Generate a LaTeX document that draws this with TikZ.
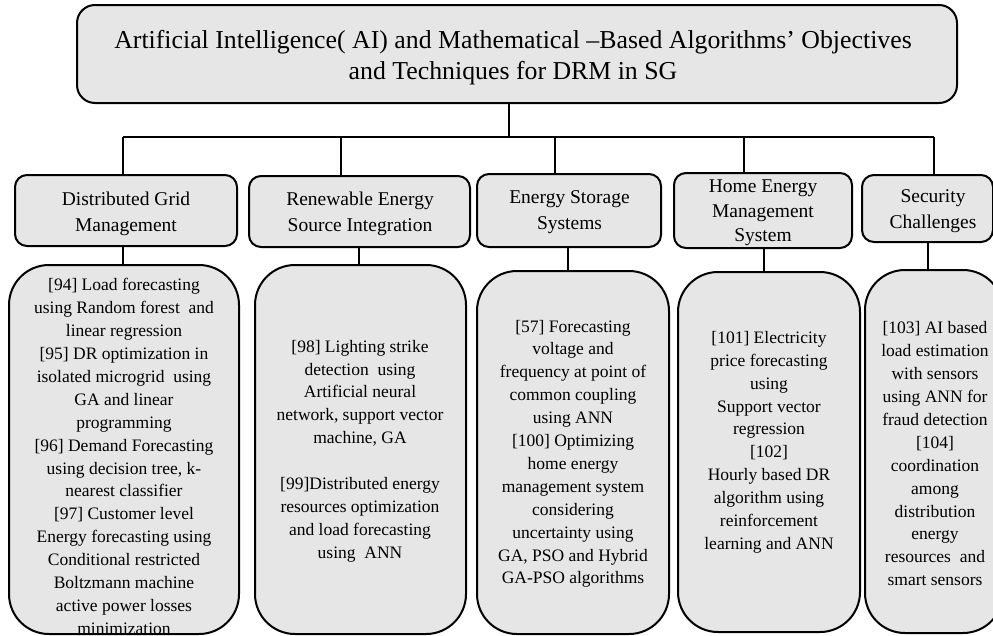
\documentclass[tikz,border=0pt]{standalone}
\usepackage{fontspec}
\setmainfont{Liberation Serif}
\definecolor{boxgray}{RGB}{230,230,230}
\begin{document}
\begin{tikzpicture}[x=1pt,y=-1pt,
  box/.style={draw=black, line width=2pt, fill=boxgray, inner sep=0pt, outer sep=0pt},
  titlebox/.style={box, rounded corners=18pt},
  catbox/.style={box, rounded corners=12pt},
  detbox/.style={box, rounded corners=40pt},
  link/.style={draw=black, line width=2pt},
  ttext/.style={align=center, font=\fontsize{25.8}{31}\selectfont, inner sep=0pt},
  ctext/.style={align=center, font=\fontsize{19.5}{26}\selectfont, inner sep=0pt},
  dtext/.style={align=center, font=\fontsize{17.5}{22.9}\selectfont, inner sep=0pt},
]
\useasboundingbox (0,0) rectangle (993,635);

% title
\node[titlebox, minimum width=880pt, minimum height=98pt] (title) at (517,54) {};
\node[ttext] (titletxt) at (513,57.5) {Artificial Intelligence( AI) and Mathematical –Based Algorithms’ Objectives\\and Techniques for DRM in SG};

% category boxes
\node[catbox, minimum width=222pt, minimum height=71pt] (c1) at (126,210.5) {};
\node[catbox, minimum width=221pt, minimum height=71pt] (c2) at (359.5,211.5) {};
\node[catbox, minimum width=184pt, minimum height=73pt] (c3) at (569,210.5) {};
\node[catbox, minimum width=178pt, minimum height=75pt] (c4) at (763,210.5) {};
\node[catbox, minimum width=131pt, minimum height=67pt] (c5) at (927.5,208.5) {};

\node[ctext] (c1t) at (126,213.5) {Distributed Grid\\Management};
\node[ctext] (c2t) at (360,214) {Renewable Energy\\Source Integration};
\node[ctext] (c3t) at (569.5,212) {Energy Storage\\Systems};
\node[ctext, font=\fontsize{19.5}{24.5}\selectfont] (c4t) at (763,213) {Home Energy\\Management\\System};
\node[ctext] (c5t) at (933,211) {Security\\Challenges};

% detail boxes
\node[detbox, minimum width=230pt, minimum height=369pt] (d1) at (124,449.5) {};
\node[detbox, minimum width=211pt, minimum height=369pt] (d2) at (360.5,449.5) {};
\node[detbox, minimum width=192pt, minimum height=363pt] (d3) at (573,452.5) {};
\node[detbox, minimum width=182pt, minimum height=360pt] (d4) at (769,452) {};
\node[detbox, minimum width=138pt, minimum height=363pt] (d5) at (934,451.5) {};

\node[dtext] (d1t) at (124,456.5) {[94] Load forecasting\\using Random forest\ \ and\\linear regression\\{}[95] DR optimization in\\isolated microgrid\ \ using\\GA and linear\\programming\\{}[96] Demand Forecasting\\using decision tree, k-\\nearest classifier\\{}[97] Customer level\\Energy forecasting using\\Conditional restricted\\Boltzmann machine\\active power losses\\minimization};
\node[dtext] (d2t) at (360,451) {[98] Lighting strike\\detection\ \ using\\Artificial neural\\network, support vector\\machine, GA\\[22.9pt][99]Distributed energy\\resources optimization\\and load forecasting\\using\ \ ANN};
\node[dtext] (d3t) at (573,453.8) {[57] Forecasting\\voltage and\\frequency at point of\\common coupling\\using ANN\\{}[100] Optimizing\\home energy\\management system\\considering\\uncertainty using\\GA, PSO and Hybrid\\GA-PSO algorithms};
\node[dtext] (d4t) at (769,442.2) {[101] Electricity\\price forecasting\\using\\Support vector\\regression\\{}[102]\\Hourly based DR\\algorithm using\\reinforcement\\learning and ANN};
\node[dtext] (d5t) at (935,453.8) {[103] AI based\\load estimation\\with sensors\\using ANN for\\fraud detection\\{}[104]\\coordination\\among\\distribution\\energy\\resources\ \ and\\smart sensors};

% connector coordinates
\coordinate (j) at (509,137);
\coordinate (t1) at (123,137);
\coordinate (t2) at (341,137);
\coordinate (t3) at (555,137);
\coordinate (t4) at (744,137);
\coordinate (t5) at (934,137);
\coordinate (u1) at (123,0);
\coordinate (u2) at (359,0);
\coordinate (u3) at (568,0);
\coordinate (u4) at (764,0);
\coordinate (u5) at (928,0);

\draw[link] (title.south -| j) -- (j);
\draw[link] (t1) -- (t5);
\foreach \i in {1,...,5}{
  \draw[link] (t\i) -- (t\i |- c\i.north);
  \draw[link] (c\i.south -| u\i) -- (d\i.north -| u\i);
}
\end{tikzpicture}
\end{document}
